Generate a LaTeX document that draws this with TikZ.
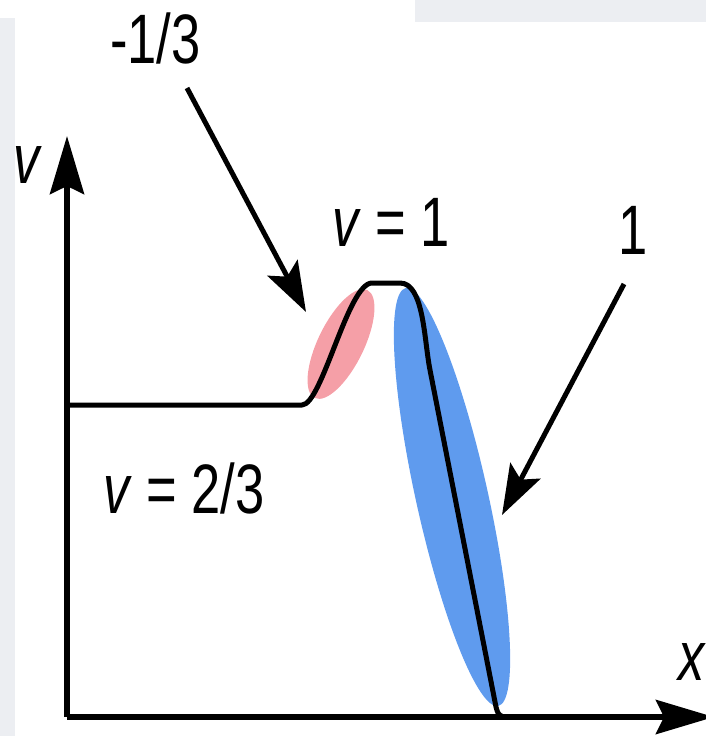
\documentclass[tikz,border=0pt]{standalone}
\usepackage{fontspec}
\setmainfont{Liberation Sans}[FakeStretch=0.75]
\usepackage{xcolor}
\usetikzlibrary{arrows.meta}
\definecolor{stripgray}{RGB}{236,238,242}
\definecolor{lobered}{RGB}{243,135,145}
\definecolor{lobeblue}{RGB}{95,155,238}

\begin{document}
\begin{tikzpicture}[
  x=1pt, y=-1pt,
  lbl/.style={inner sep=0pt, anchor=base west, font=\fontsize{70}{80}\selectfont},
  axis/.style={draw, line width=6pt, -{Stealth[length=58pt, width=34pt, inset=8pt]}},
  pointer/.style={draw, line width=5pt, -{Stealth[length=50pt, width=34pt, inset=10pt]}},
  profile/.style={draw, line width=5pt, line join=round},
]
\useasboundingbox (0,0) rectangle (706,736);
\fill[stripgray] (0,18) rectangle (15,736);
\fill[stripgray] (415,0) rectangle (706,22);

% lobes
\fill[lobered, opacity=0.8, rotate around={-26:(341,344)}] (341,344) ellipse [x radius=23, y radius=60];
\fill[lobeblue, rotate around={12.5:(452,497)}] (452,497) ellipse [x radius=36, y radius=214];

% axes
\coordinate (O) at (67,717);
\coordinate (ytop) at (67,136);
\coordinate (xend) at (714,717);
\draw[axis] (O) -- (ytop);
\draw[axis] (O) -- (xend);

% profile
\draw[profile] (67,405) -- (302,405)
  .. controls (322,405) and (348,283) .. (372,283) -- (400,283)
  .. controls (424,283) and (424,340) .. (430,370) -- (496,707)
  .. controls (498,714) .. (503,717);

% labels
\node[lbl] (mthird) at (110,63) {-1/3};
\node[lbl] (vone) at (332,246) {\textit{v} = 1};
\node[lbl] (one) at (618,254) {1};
\node[lbl] (vtwo) at (103,513) {\textit{v} = 2/3};
\node[lbl] (vlab) at (13,183) {\textit{v}};
\node[lbl] (xlab) at (678,680) {\textit{x}};

% arrows
\coordinate (ta) at (187,88);
\coordinate (ha) at (306,312);
\coordinate (tb) at (624,284);
\coordinate (hb) at (502,515);
\draw[pointer] (ta) -- (ha);
\draw[pointer] (tb) -- (hb);
\end{tikzpicture}
\end{document}
